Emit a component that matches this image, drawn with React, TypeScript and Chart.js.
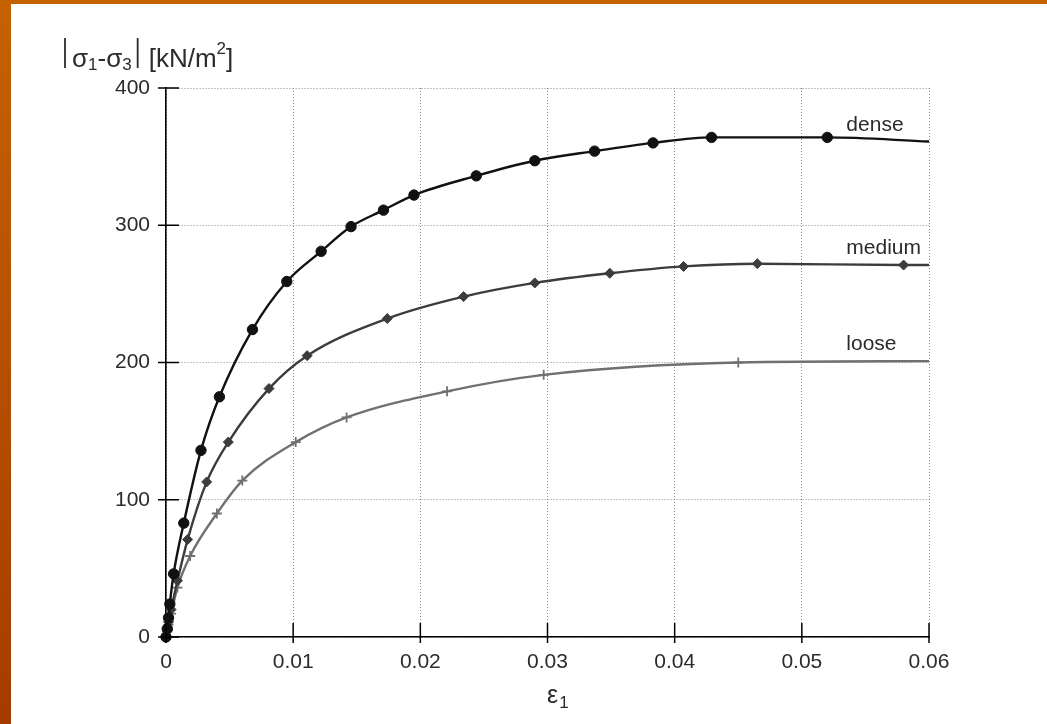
import React, { useEffect, useRef } from "react";
import { Chart, registerables } from "chart.js";

Chart.register(...registerables);

// ---- data ----
const denseX = [0, 0.0001, 0.0002, 0.0003, 0.0006, 0.0014, 0.00275, 0.0042, 0.0068, 0.0095, 0.0122, 0.01455, 0.0171, 0.0195, 0.0244, 0.029, 0.0337, 0.0383, 0.0429, 0.052, 0.06];
const denseY = [0, 6, 14, 24, 46, 83, 136, 175, 224, 259, 281, 299, 311, 322, 336, 347, 354, 360, 364, 364, 361];

const mediumX = [0, 0.0001, 0.0002, 0.0004, 0.0009, 0.0017, 0.0032, 0.0049, 0.0081, 0.0111, 0.0174, 0.0234, 0.029, 0.0349, 0.0407, 0.0465, 0.058, 0.06];
const mediumY = [0, 5, 11, 20, 41, 71, 113, 142, 181, 205, 232, 248, 258, 265, 270, 272, 271, 271];

const looseX = [0, 0.0001, 0.0002, 0.0004, 0.0009, 0.0019, 0.004, 0.006, 0.0102, 0.0142, 0.0221, 0.0297, 0.045, 0.06];
const looseY = [0, 4, 9, 17, 36, 59, 90, 114, 142, 160, 179, 191, 200, 201];

const seriesNames = ["dense", "medium", "loose"];
const labelX = 0.0535;
const labelY = [369, 279, 209];

const xTicks = [0, 0.01, 0.02, 0.03, 0.04, 0.05, 0.06];
const yTicks = [0, 100, 200, 300, 400];

const FONT = "'Liberation Sans', Arial, sans-serif";
const TEXT = "#2b2b2b";

function pts(xs: number[], ys: number[]) {
  return xs.map((x, i) => ({ x, y: ys[i] }));
}
function radii(n: number, r: number) {
  return Array.from({ length: n }, (_, i) => (i === n - 1 ? 0 : r));
}

const overlay = {
  id: "overlay",
  afterDraw(chart: any) {
    const ctx = chart.ctx as CanvasRenderingContext2D;
    const xs = chart.scales.x;
    const ys = chart.scales.y;
    const left = xs.left;
    const bottom = ys.bottom;
    ctx.save();
    // tick marks
    ctx.strokeStyle = "#000";
    ctx.lineWidth = 1.5;
    yTicks.forEach((v) => {
      const y = ys.getPixelForValue(v);
      ctx.beginPath();
      ctx.moveTo(left - 8, y);
      ctx.lineTo(left + 13, y);
      ctx.stroke();
    });
    xTicks.forEach((v) => {
      const x = xs.getPixelForValue(v);
      ctx.beginPath();
      ctx.moveTo(x, bottom - 14);
      ctx.lineTo(x, bottom + 6);
      ctx.stroke();
    });
    // series labels
    ctx.fillStyle = TEXT;
    ctx.font = `21px ${FONT}`;
    ctx.textAlign = "left";
    ctx.textBaseline = "alphabetic";
    seriesNames.forEach((n, i) => {
      ctx.fillText(n, xs.getPixelForValue(labelX), ys.getPixelForValue(labelY[i]));
    });
    // y title: |σ1-σ3| [kN/m2]
    const big = `26px ${FONT}`;
    const small = `17px ${FONT}`;
    const base = 67;
    let cx = 65;
    const bar = (x: number) => {
      ctx.beginPath();
      ctx.lineWidth = 1.8;
      ctx.strokeStyle = TEXT;
      ctx.moveTo(x, 38);
      ctx.lineTo(x, 68);
      ctx.stroke();
    };
    const put = (t: string, f: string, dy: number) => {
      ctx.font = f;
      ctx.fillText(t, cx, base + dy);
      cx += ctx.measureText(t).width;
    };
    bar(cx);
    cx += 7;
    put("σ", big, 0);
    put("1", small, 3);
    put("-", big, 0);
    put("σ", big, 0);
    put("3", small, 3);
    cx += 6;
    bar(cx);
    cx += 11;
    put("[kN/m", big, 0);
    put("2", small, -13);
    put("]", big, 0);
    // x title ε1
    cx = 547;
    ctx.font = `25px ${FONT}`;
    ctx.fillText("ε", cx, 703);
    cx += ctx.measureText("ε").width + 1;
    ctx.font = small;
    ctx.fillText("1", cx, 708);
    ctx.restore();
  },
};

export default function App() {
  const ref = useRef<HTMLCanvasElement | null>(null);
  useEffect(() => {
    if (!ref.current) return;
    const mk = (label: string, xs: number[], ys: number[], color: string, style: string, r: number) => ({
      label,
      data: pts(xs, ys),
      showLine: true,
      borderColor: color,
      backgroundColor: color,
      borderWidth: 2.4,
      pointStyle: style,
      pointRadius: radii(xs.length, r),
      pointBorderWidth: style === "cross" ? 1.8 : 1,
      pointBorderColor: color,
      pointBackgroundColor: color,
      tension: 0.4,
      cubicInterpolationMode: "monotone",
      clip: false,
    });
    const chart = new Chart(ref.current, {
      type: "scatter",
      data: {
        datasets: [
          mk("dense", denseX, denseY, "#111111", "circle", 5.2),
          mk("medium", mediumX, mediumY, "#3c3c3c", "rectRot", 5),
          mk("loose", looseX, looseY, "#707070", "cross", 5),
        ] as any,
      },
      options: {
        animation: false,
        responsive: false,
        maintainAspectRatio: false,
        layout: { padding: { left: 0, top: 88, right: 118, bottom: 0 } },
        plugins: { legend: { display: false }, tooltip: { enabled: false } },
        scales: {
          x: {
            type: "linear",
            min: 0,
            max: 0.06,
            afterFit: (s: any) => {
              s.height = 87;
            },
            afterBuildTicks: (s: any) => {
              s.ticks = xTicks.map((v) => ({ value: v }));
            },
            ticks: {
              padding: 13,
              color: TEXT,
              font: { family: FONT, size: 21 },
              callback: (v: any) => (Number(v) === 0 ? "0" : Number(v).toFixed(2)),
            },
            grid: { color: "#8a8a8a", lineWidth: 1, drawTicks: false },
            border: { display: true, color: "#000", width: 1.6, dash: [1, 2] },
          } as any,
          y: {
            min: 0,
            max: 400,
            afterFit: (s: any) => {
              s.width = 166;
            },
            afterBuildTicks: (s: any) => {
              s.ticks = yTicks.map((v) => ({ value: v }));
            },
            ticks: {
              padding: 16,
              color: TEXT,
              font: { family: FONT, size: 21 },
            },
            grid: { color: "#8a8a8a", lineWidth: 1, drawTicks: false },
            border: { display: true, color: "#000", width: 1.6, dash: [1, 2] },
          } as any,
        },
      },
      plugins: [overlay],
    });
    return () => chart.destroy();
  }, []);
  return (
    <div
      style={{
        position: "absolute",
        left: 0,
        top: 0,
        width: 1047,
        height: 724,
        background: "linear-gradient(180deg, #c46200 0%, #b24c00 60%, #a43c00 100%)",
        overflow: "hidden",
      }}
    >
      <div style={{ position: "absolute", left: 11, top: 4, width: 1036, height: 720, background: "#fff" }} />
      <canvas ref={ref} width={1047} height={724} style={{ position: "absolute", left: 0, top: 0 }} />
    </div>
  );
}
